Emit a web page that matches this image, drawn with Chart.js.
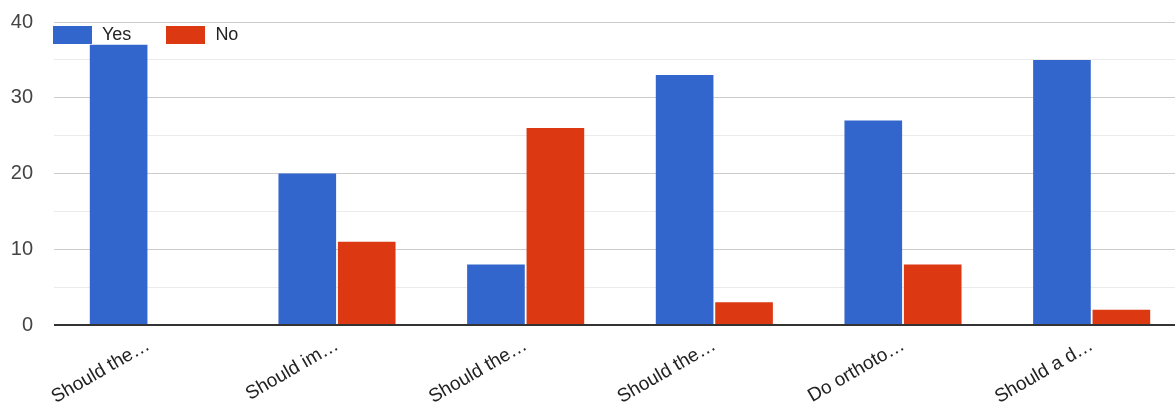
<!DOCTYPE html>
<html>
<head>
<meta charset="utf-8">
<script src="https://cdn.jsdelivr.net/npm/chart.js@4"></script>
<style>
    html, body { margin: 0; padding: 0; background: #fff; overflow: hidden; }
    #wrap { width: 1186px; height: 403px; position: relative; }
    .legend { position: absolute; left: 53px; top: 24px; display: flex; align-items: center;
              font: 18px Arial, "Liberation Sans", sans-serif; color: #222; }
    .legend-item { display: flex; align-items: center; margin-right: 35px; }
    .legend-box { width: 39px; height: 18px; margin-right: 10px; }
</style>
</head>
<body>
<div id="wrap">
    <canvas id="surveyChart"></canvas>
    <div class="legend" id="legend"></div>
</div>
<script>
// chart data
const categories = ['Should the…', 'Should im…', 'Should the…', 'Should the…', 'Do orthoto…', 'Should a d…'];
const seriesNames = ['Yes', 'No'];
const yesCounts = [37, 20, 8, 33, 27, 35];
const noCounts = [0, 11, 26, 3, 8, 2];
const yTicks = [0, 10, 20, 30, 40];

const FONT = 'Arial, "Liberation Sans", sans-serif';
const COLORS = ['#3366cc', '#dc3912'];

function buildLegend() {
    const legend = document.getElementById('legend');
    legend.innerHTML = seriesNames.map((name, i) => `
        <div class="legend-item">
            <span class="legend-box" style="background: ${COLORS[i]}"></span>
            <span>${name}</span>
        </div>
    `).join('');
}

function initChart() {
    const ctx = document.getElementById('surveyChart');

    new Chart(ctx, {
        type: 'bar',
        data: {
            labels: categories,
            datasets: [{
                label: seriesNames[0],
                data: yesCounts,
                backgroundColor: COLORS[0],
                borderWidth: 0
            }, {
                label: seriesNames[1],
                data: noCounts,
                backgroundColor: COLORS[1],
                borderWidth: 0
            }]
        },
        options: {
            responsive: true,
            maintainAspectRatio: false,
            animation: false,
            datasets: {
                bar: { categoryPercentage: 0.63, barPercentage: 0.97 }
            },
            layout: { padding: { top: 22, right: 0, left: 0, bottom: 0 } },
            plugins: {
                tooltip: { enabled: false },
                legend: { display: false }
            },
            scales: {
                x: {
                    grid: { display: false },
                    border: { display: false },
                    ticks: {
                        autoSkip: false,
                        minRotation: 30,
                        maxRotation: 30,
                        padding: 1,
                        color: '#222',
                        font: { family: FONT, size: 19 }
                    },
                    afterFit: (scale) => { scale.height = 78; }
                },
                y: {
                    min: 0,
                    max: 40,
                    border: { display: false },
                    grid: {
                        // invisible tick marks give the label gap without extra top padding
                        drawTicks: true,
                        tickLength: 21,
                        tickColor: 'rgba(0,0,0,0)',
                        color: (c) => {
                            const v = c.tick ? c.tick.value : 0;
                            if (v === 0) return '#333';
                            return yTicks.includes(v) ? '#cccccc' : '#ebebeb';
                        },
                        lineWidth: (c) => (c.tick && c.tick.value === 0 ? 2 : 1)
                    },
                    ticks: {
                        stepSize: 5,
                        padding: 0,
                        color: '#444',
                        font: { family: FONT, size: 20 },
                        callback: (value) => (yTicks.includes(value) ? value : '')
                    },
                    afterFit: (scale) => { scale.width = 54; }
                }
            }
        }
    });
}

buildLegend();
initChart();
</script>
</body>
</html>
